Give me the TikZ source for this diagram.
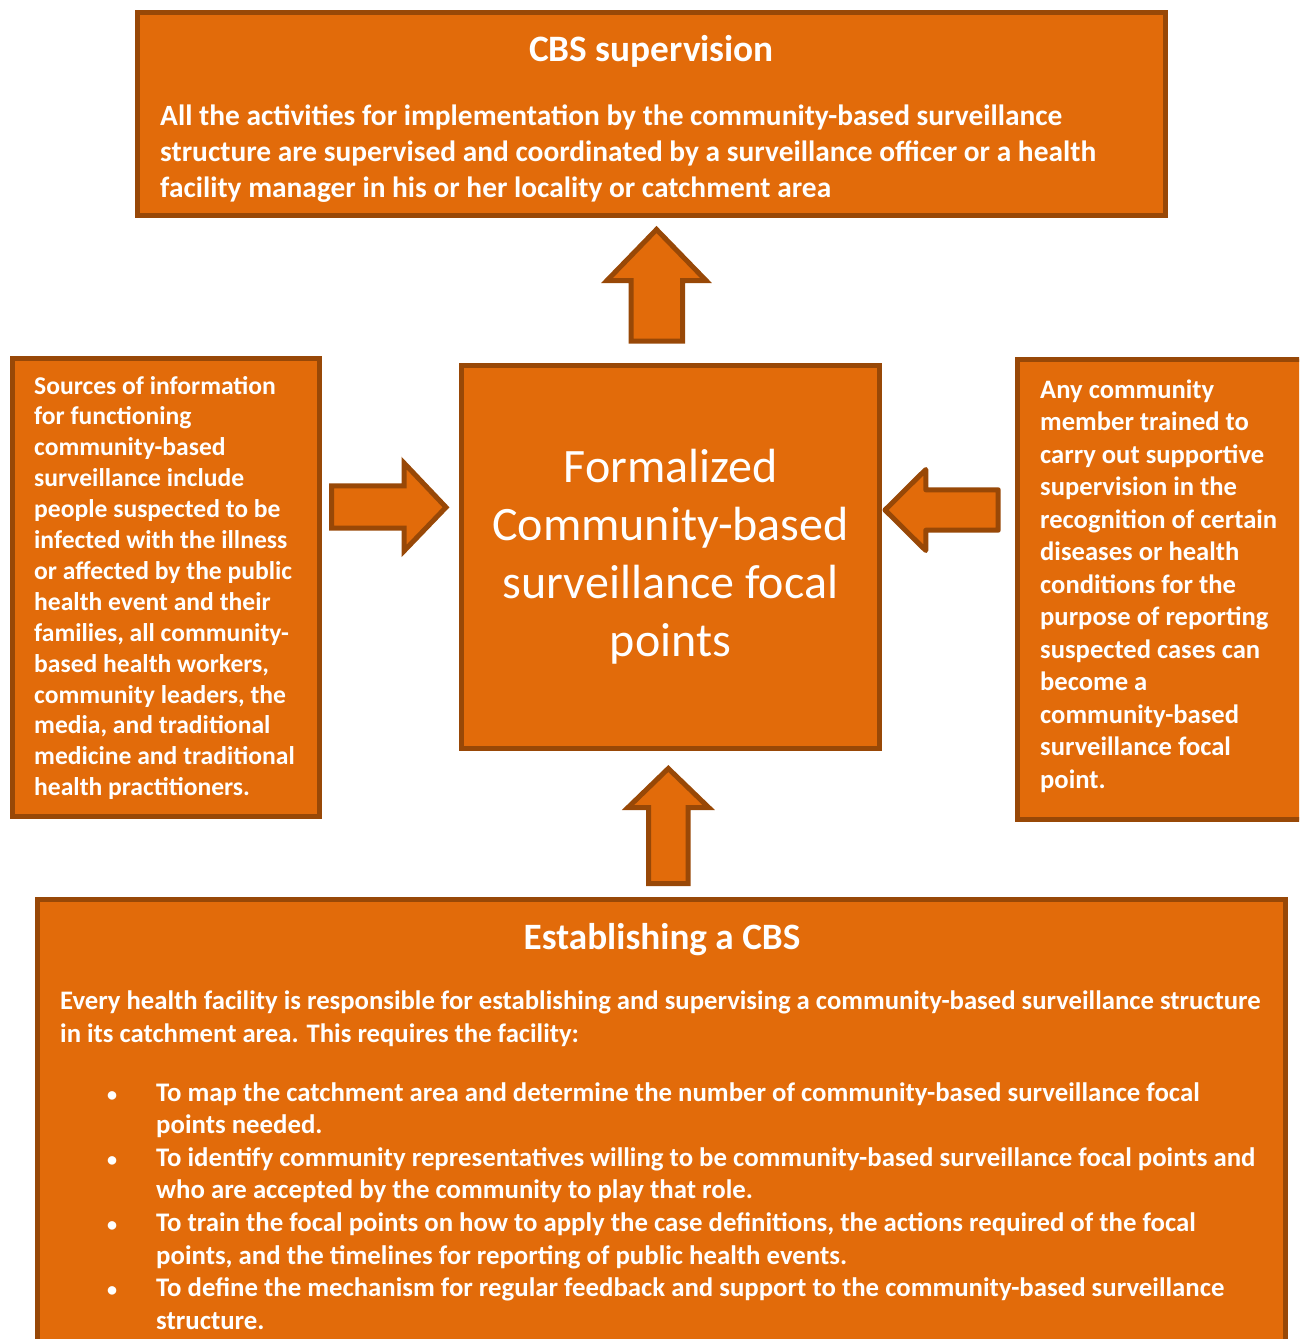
\documentclass[tikz,border=0pt]{standalone}
\usepackage{fontspec}
\setmainfont{Carlito}
\definecolor{fillor}{HTML}{E26B0A}
\definecolor{edgeor}{HTML}{984807}
\newcommand{\blt}{\makebox[48pt][l]{\hspace*{-1pt}\scalebox{0.75}{\textbullet}}}
\newcommand{\ind}{\hspace*{48pt}}
\begin{document}
\begin{tikzpicture}[x=1pt,y=-1pt,
  box/.style={draw=edgeor, fill=fillor, line width=5pt, rectangle, inner sep=0pt},
  blockarrow/.style={draw=edgeor, fill=fillor, line width=5pt, line join=miter},
  txt/.style={text=white, inner sep=0pt, anchor=base west},
  ctxt/.style={text=white, inner sep=0pt, anchor=base}]
\useasboundingbox (0,0) rectangle (1299,1339);
\clip (0,0) rectangle (1299,1339);

% boxes
\node[box, minimum width=1027.5pt, minimum height=203pt] (sup) at (651.25,114) {};
\node[box, minimum width=307pt, minimum height=458pt] (src) at (166,587.5) {};
\node[box, minimum width=418pt, minimum height=383pt] (cen) at (670,557) {};
\node[box, minimum width=302.5pt, minimum height=460.5pt] (any) at (1168.75,589.25) {};
\node[box, minimum width=1248pt, minimum height=461pt] (est) at (661.5,1129.5) {};

% block arrows
\draw[blockarrow] (656.5,229.5) -- (706,280.5) -- (682.5,280.5) -- (682.5,341) -- (631,341) -- (631,280.5) -- (607,280.5) -- cycle;
\draw[blockarrow] (446,507.3) -- (404,551) -- (404,528.2) -- (331.5,528.2) -- (331.5,485.8) -- (404,485.8) -- (404,463) -- cycle;
\draw[blockarrow, line join=round] (885,510) -- (925.8,469.5) -- (925.8,489.8) -- (998.2,489.8) -- (998.2,530.2) -- (925.8,530.2) -- (925.8,550.5) -- cycle;
\draw[blockarrow] (668.3,768.5) -- (708.7,807.5) -- (688.2,807.5) -- (688.2,883.5) -- (648.5,883.5) -- (648.5,807.5) -- (628,807.5) -- cycle;

% texts
\node[ctxt, font=\fontsize{37.3}{40}\selectfont\bfseries] (supT) at (651.5,61) {CBS supervision};
\node[txt, font=\fontsize{29.4}{36}\selectfont\bfseries] (supB) at (160,125) {\parbox[t]{1000pt}{\raggedright
All the activities for implementation by the community-based surveillance\\
structure are supervised and coordinated by a surveillance officer or a health\\
facility manager in his or her locality or catchment area}};

\node[txt, font=\fontsize{25.6}{30.9}\selectfont\bfseries] (srcB) at (34,394) {\parbox[t]{290pt}{\raggedright
Sources of information\\
for functioning\\
community-based\\
surveillance include\\
people suspected to be\\
infected with the illness\\
or affected by the public\\
health event and their\\
families, all community-\\
based health workers,\\
community leaders, the\\
media, and traditional\\
medicine and traditional\\
health practitioners.}};

\node[ctxt, font=\fontsize{48}{58.3}\selectfont] (cenT) at (670.5,482) {\parbox[t]{410pt}{\centering
Formalized\\
Community-based\\
surveillance focal\\
points}};

\node[txt, font=\fontsize{26.6}{32.5}\selectfont\bfseries] (anyB) at (1040,398) {\parbox[t]{290pt}{\raggedright
Any community\\
member trained to\\
carry out supportive\\
supervision in the\\
recognition of certain\\
diseases or health\\
conditions for the\\
purpose of reporting\\
suspected cases can\\
become a\\
community-based\\
surveillance focal\\
point.}};

\node[ctxt, font=\fontsize{37.2}{40}\selectfont\bfseries] (estT) at (662,949) {Establishing a CBS};
\node[txt, font=\fontsize{26.7}{33}\selectfont\bfseries] (estB) at (60,1009) {\parbox[t]{1236pt}{\raggedright
Every health facility is responsible for establishing and supervising a community-based surveillance structure\\
in its catchment area. This requires the facility:}};
\node[txt, font=\fontsize{26.8}{32.6}\selectfont\bfseries] (estL) at (108,1101) {\parbox[t]{1185pt}{\raggedright
\blt To map the catchment area and determine the number of community-based surveillance focal\\
\ind points needed.\\
\blt To identify community representatives willing to be community-based surveillance focal points and\\
\ind who are accepted by the community to play that role.\\
\blt To train the focal points on how to apply the case definitions, the actions required of the focal\\
\ind points, and the timelines for reporting of public health events.\\
\blt To define the mechanism for regular feedback and support to the community-based surveillance\\
\ind structure.}};
\end{tikzpicture}
\end{document}
